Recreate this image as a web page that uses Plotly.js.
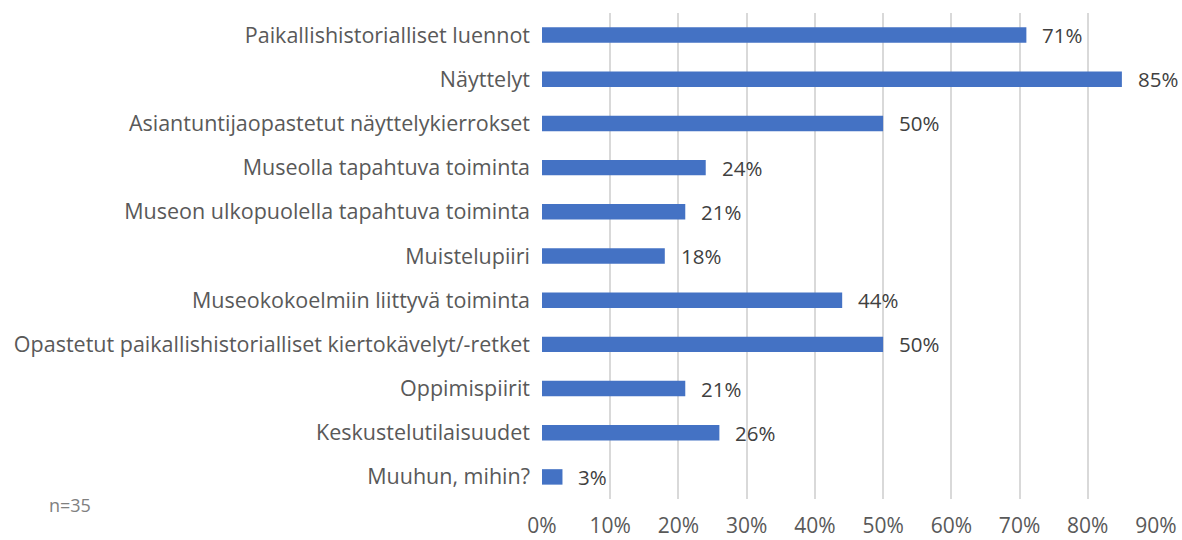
<!DOCTYPE html>
<html>
<head>
<meta charset="utf-8">
<script src="https://cdn.plot.ly/plotly-3.0.1.min.js"></script>
<style>html,body{margin:0;padding:0;background:#fff;}#chart{width:1182px;height:540px;}</style>
</head>
<body>
<div id="chart"></div>
<script>
const categories = [
  "Paikallishistorialliset luennot",
  "Näyttelyt",
  "Asiantuntijaopastetut näyttelykierrokset",
  "Museolla tapahtuva toiminta",
  "Museon ulkopuolella tapahtuva toiminta",
  "Muistelupiiri",
  "Museokokoelmiin liittyvä toiminta",
  "Opastetut paikallishistorialliset kiertokävelyt/-retket",
  "Oppimispiirit",
  "Keskustelutilaisuudet",
  "Muuhun, mihin?"
];
const values = [71, 85, 50, 24, 21, 18, 44, 50, 21, 26, 3];
const tickValues = [0, 10, 20, 30, 40, 50, 60, 70, 80, 90];
const tickLabels = tickValues.map(v => v + "%");
const sampleNote = "n=35";

const FONT = "Open Sans, Noto Sans, sans-serif";

const trace = {
  type: "bar",
  orientation: "h",
  x: values,
  y: categories,
  marker: {color: "#4472C4"},
  width: 0.35,
  hoverinfo: "skip"
};

const annotations = values.map((v, i) => ({
  x: v, y: categories[i], xref: "x", yref: "y",
  text: v + "%", showarrow: false,
  xanchor: "left", yanchor: "middle", xshift: 14,
  font: {family: FONT, size: 20.5, color: "#404040"}
}));
annotations.push({
  xref: "paper", yref: "paper", x: -0.8066, y: -0.012,
  xanchor: "left", yanchor: "middle", showarrow: false,
  text: sampleNote,
  font: {family: FONT, size: 18, color: "#808080"}
});

const layout = {
  width: 1182, height: 540,
  margin: {l: 541.7, r: 25.7, t: 13.3, b: 40.7},
  paper_bgcolor: "#ffffff",
  plot_bgcolor: "#ffffff",
  showlegend: false,
  font: {family: FONT},
  xaxis: {
    range: [0, 90],
    tickvals: tickValues,
    ticktext: tickLabels,
    showgrid: true,
    gridcolor: "#d9d9d9",
    gridwidth: 2,
    zeroline: false,
    showline: false,
    ticks: "",
    ticklabelstandoff: 12,
    tickfont: {family: FONT, size: 21, color: "#595959"},
    fixedrange: true
  },
  yaxis: {
    type: "category",
    autorange: "reversed",
    showgrid: false,
    zeroline: false,
    showline: false,
    ticks: "",
    ticklabelstandoff: 11,
    tickfont: {family: FONT, size: 21.5, color: "#595959"},
    fixedrange: true
  },
  annotations: annotations
};

Plotly.newPlot("chart", [trace], layout, {displayModeBar: false, staticPlot: true});
</script>
</body>
</html>
